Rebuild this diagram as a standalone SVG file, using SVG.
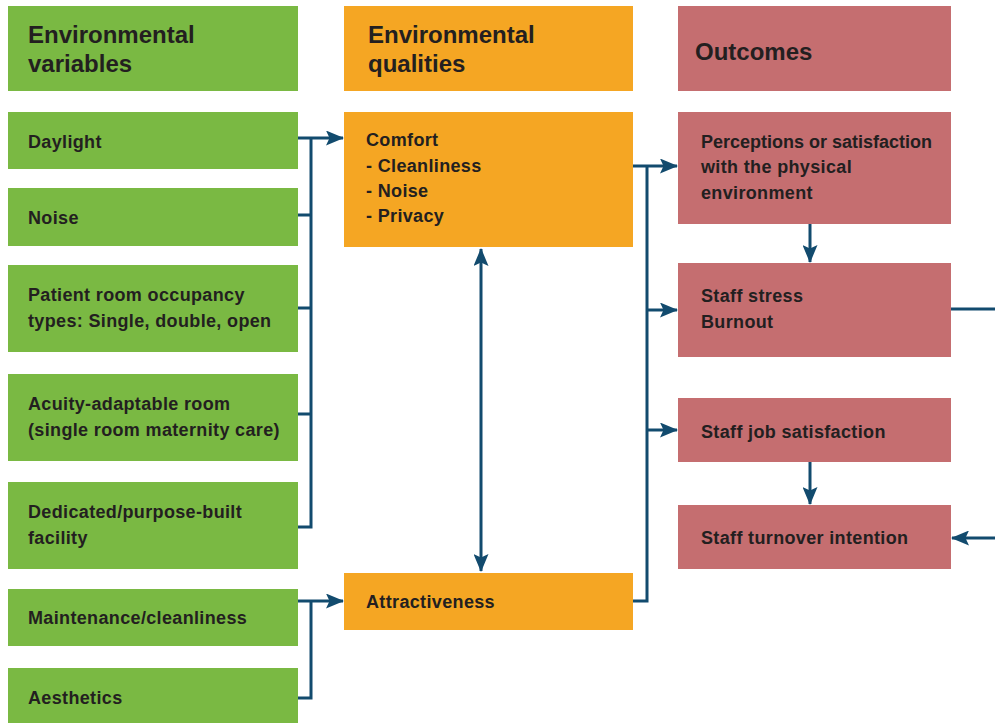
<svg xmlns="http://www.w3.org/2000/svg" width="995" height="723" viewBox="0 0 995 723">
<defs>
<style>
.g{fill:#7ab943}.o{fill:#f5a623}.r{fill:#c56e70}
text{font-family:"Liberation Sans",Arial,sans-serif;font-weight:bold;fill:#231f20}
.h{font-size:24px}.t{font-size:18px;letter-spacing:0.35px}
.n{letter-spacing:0}
.c{fill:none;stroke:#124b6e;stroke-width:3}
</style>
<marker id="a" markerUnits="userSpaceOnUse" markerWidth="18" markerHeight="15" refX="17" refY="7.5" orient="auto-start-reverse" viewBox="0 0 18 15">
<path d="M0,0 L18,7.5 L0,15 L3.5,7.5 Z" fill="#124b6e"/>
</marker>
</defs>
<rect width="995" height="723" fill="#fff"/>
<g id="h1"><rect class="g" x="8" y="6" width="290" height="85"/><text class="h" x="28" y="43">Environmental</text><text class="h" x="28" y="72">variables</text></g>
<g id="h2"><rect class="o" x="344" y="6" width="289" height="85"/><text class="h" x="368" y="43">Environmental</text><text class="h" x="368" y="72">qualities</text></g>
<g id="h3"><rect class="r" x="678" y="6" width="273" height="85"/><text class="h" x="695" y="60">Outcomes</text></g>
<g id="daylight"><rect class="g" x="8" y="112" width="290" height="57"/><text class="t" x="28" y="148">Daylight</text></g>
<g id="noise"><rect class="g" x="8" y="188" width="290" height="58"/><text class="t" x="28" y="224">Noise</text></g>
<g id="occupancy"><rect class="g" x="8" y="265" width="290" height="87"/><text class="t" x="28" y="301">Patient room occupancy</text><text class="t" x="28" y="327">types: Single, double, open</text></g>
<g id="acuity"><rect class="g" x="8" y="374" width="290" height="87"/><text class="t" x="28" y="410">Acuity-adaptable room</text><text class="t" x="28" y="436">(single room maternity care)</text></g>
<g id="dedicated"><rect class="g" x="8" y="482" width="290" height="87"/><text class="t" x="28" y="518">Dedicated/purpose-built</text><text class="t" x="28" y="544">facility</text></g>
<g id="maintenance"><rect class="g" x="8" y="589" width="290" height="57"/><text class="t" x="28" y="624">Maintenance/cleanliness</text></g>
<g id="aesthetics"><rect class="g" x="8" y="668" width="290" height="55"/><text class="t" x="28" y="704">Aesthetics</text></g>
<g id="comfort"><rect class="o" x="344" y="112" width="289" height="135"/><text class="t" x="366" y="146">Comfort</text><text class="t" x="366" y="172">- Cleanliness</text><text class="t" x="366" y="197">- Noise</text><text class="t" x="366" y="222">- Privacy</text></g>
<g id="attractiveness"><rect class="o" x="344" y="573" width="289" height="57"/><text class="t" x="366" y="608">Attractiveness</text></g>
<g id="perceptions"><rect class="r" x="678" y="112" width="273" height="112"/><text class="t n" x="701" y="148">Perceptions or satisfaction</text><text class="t" x="701" y="173">with the physical</text><text class="t" x="701" y="199">environment</text></g>
<g id="stress"><rect class="r" x="678" y="263" width="273" height="94"/><text class="t" x="701" y="302">Staff stress</text><text class="t" x="701" y="328">Burnout</text></g>
<g id="jobsat"><rect class="r" x="678" y="398" width="273" height="64"/><text class="t" x="701" y="438">Staff job satisfaction</text></g>
<g id="turnover"><rect class="r" x="678" y="505" width="273" height="64"/><text class="t" x="701" y="544">Staff turnover intention</text></g>
<g id="connectors">
<path class="c" d="M298,138 H343" marker-end="url(#a)"/>
<path class="c" d="M311,138 V527 H298 M298,215 H311 M298,308 H311 M298,414 H311"/>
<path class="c" d="M298,601 H343" marker-end="url(#a)"/>
<path class="c" d="M311,601 V698 H298"/>
<path class="c" d="M481,249 V571" marker-start="url(#a)" marker-end="url(#a)"/>
<path class="c" d="M633,166 H677" marker-end="url(#a)"/>
<path class="c" d="M647,166 V601 H633"/>
<path class="c" d="M647,310 H677" marker-end="url(#a)"/>
<path class="c" d="M647,430 H677" marker-end="url(#a)"/>
<path class="c" d="M810,224 V262" marker-end="url(#a)"/>
<path class="c" d="M810,462 V504" marker-end="url(#a)"/>
<path class="c" d="M951,309 H995"/>
<path class="c" d="M995,538 H952" marker-end="url(#a)"/>
</g>
</svg>
